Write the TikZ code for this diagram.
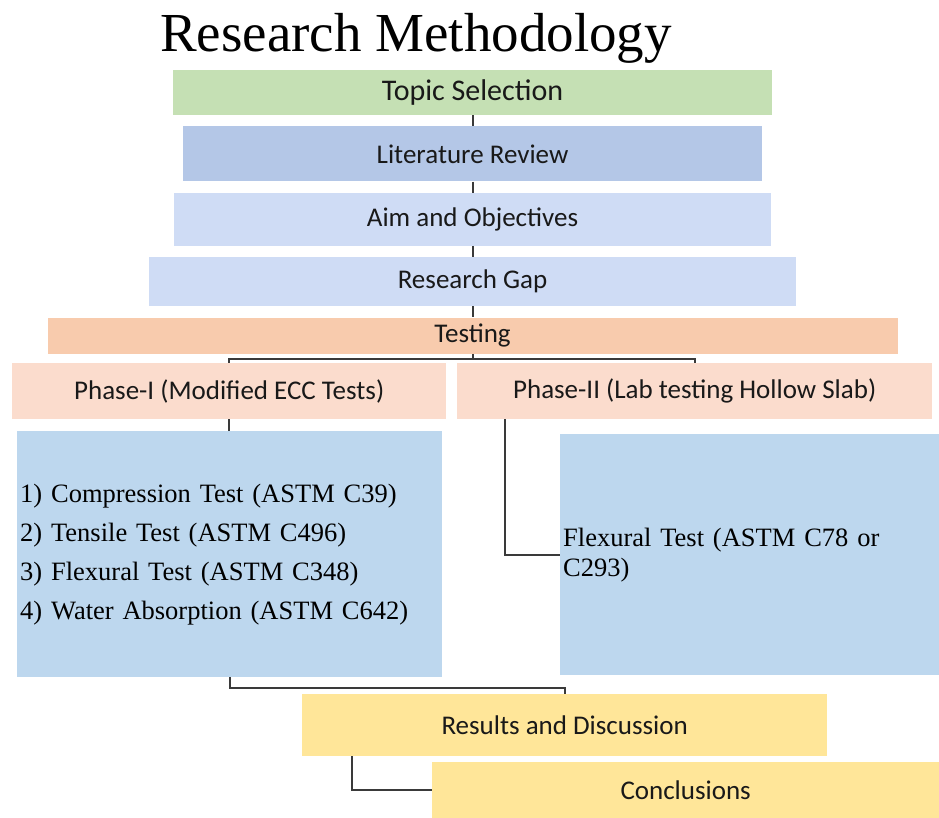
\documentclass[tikz,border=0pt]{standalone}
\usepackage{fontspec}
\setmainfont{Liberation Serif}
\newfontfamily\boxfont{Carlito}
\usepackage{xcolor}
\usetikzlibrary{positioning}
\definecolor{topicgreen}{HTML}{C5E0B4}
\definecolor{litblue}{HTML}{B4C7E7}
\definecolor{paleblue}{HTML}{CFDCF5}
\definecolor{testorange}{HTML}{F8CBAD}
\definecolor{phaseorange}{HTML}{FBDCCD}
\definecolor{testblue}{HTML}{BDD7EE}
\definecolor{resultyellow}{HTML}{FFE699}
\definecolor{linkgray}{HTML}{3A3A3A}

\begin{document}
\begin{tikzpicture}[
    x=1pt, y=-1pt,
    node distance=11pt,
    base/.style={rectangle, inner sep=0pt, align=center, text=black!90, font=\boxfont\fontsize{27}{32}\selectfont},
    stage/.style={base, fill=paleblue},
    phase/.style={base, fill=phaseorange, minimum height=56pt, anchor=north west},
    testlist/.style={rectangle, fill=testblue, inner sep=3pt, align=left, text=black, anchor=north west},
    outcome/.style={base, fill=resultyellow, anchor=north west},
    link/.style={draw=linkgray, line width=2pt}
]
\useasboundingbox (0,0) rectangle (939,818);

\node[anchor=base, font=\fontsize{55}{60}\selectfont] (title) at (416,52) {Research Methodology};

% main column
\node[base, fill=topicgreen, minimum width=599pt, minimum height=45pt, font=\boxfont\fontsize{30}{36}\selectfont] (topic) at (472.5,92.5) {Topic Selection};
\node[stage, fill=litblue, below=11pt of topic, minimum width=579pt, minimum height=55pt] (lit) {Literature Review};
\node[stage, below=11pt of lit, minimum width=597pt, minimum height=53pt] (aim) {Aim and Objectives};
\node[stage, below=11pt of aim, minimum width=647pt, minimum height=49pt] (gap) {Research Gap};
\node[base, fill=testorange, below=11pt of gap, minimum width=850pt, minimum height=36pt] (testing) {Testing};

\draw[link] (topic) -- (lit);
\draw[link] (lit) -- (aim);
\draw[link] (aim) -- (gap);
\draw[link] (gap) -- (testing);

% phases
\node[phase, minimum width=434pt] (phase1) at (12,363) {Phase-I (Modified ECC Tests)};
\node[phase, minimum width=475pt] (phase2) at (457,363) {Phase-II (Lab testing Hollow Slab)};

\draw[link] (testing.south) -- ++(0,5.5) coordinate (split);
\draw[link] (split) -| (phase1);
\draw[link] (split) -| (phase2);

\node[testlist, text width=419pt, minimum height=246pt, font=\fontsize{26.5}{39}\selectfont] (phase1tests) at (17,431)
    {1) Compression Test (ASTM C39)\\2) Tensile Test (ASTM C496)\\3) Flexural Test (ASTM C348)\\4) Water Absorption (ASTM C642)};
\node[testlist, text width=373pt, minimum height=241pt, font=\fontsize{26.5}{30}\selectfont] (phase2tests) at (560,434)
    {Flexural Test (ASTM C78 or\\C293)};

\draw[link] (phase1.south) -- (phase1.south |- phase1tests.north);
\draw[link] ([xshift=48pt]phase2.south west) |- (phase2tests.west);

% results
\node[outcome, minimum width=525pt, minimum height=62pt] (results) at (302,694) {Results and Discussion};
\node[outcome, minimum width=507pt, minimum height=56pt] (conclusions) at (432,762) {Conclusions};

\draw[link] (phase1tests.south) -- ++(0,11) -| (results);
\draw[link] ([xshift=50pt]results.south west) |- (conclusions.west);

\end{tikzpicture}
\end{document}
